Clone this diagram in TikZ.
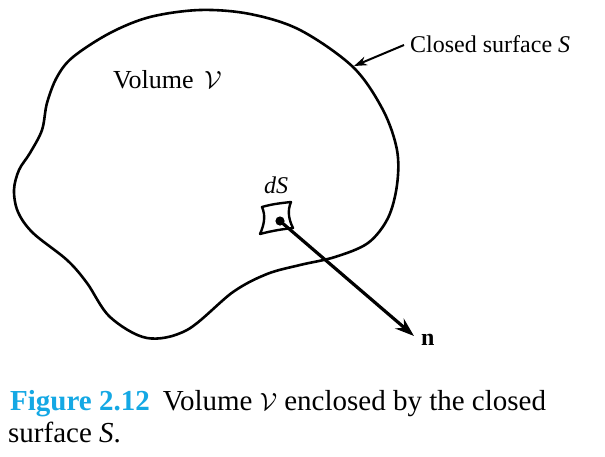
\documentclass[tikz,border=0pt]{standalone}
\usepackage{fontspec}
\setmainfont{Liberation Serif}
\usetikzlibrary{arrows.meta}
\definecolor{capblue}{RGB}{20,168,228}
\tikzset{
  outline/.style={line width=2.6pt, line join=round},
  lbl/.style={font=\fontsize{24}{28}\selectfont, inner sep=0pt},
  captext/.style={font=\fontsize{29}{33}\selectfont, inner sep=0pt},
  ptr/.style={line width=2pt, -{Stealth[length=13pt,width=9pt]}},
  normalarrow/.style={line width=3.2pt, -{Stealth[length=19pt,width=13pt]}}
}
\begin{document}
\begin{tikzpicture}[x=1pt,y=-1pt]
\useasboundingbox (0,0) rectangle (605,456);
% closed surface
\draw[outline] plot[smooth cycle, tension=0.55] coordinates {
 (200,10) (250,14) (300,30) (353,67) (383,110) (397,150) (397,185)
 (388,218) (368,243) (335,257) (300,265) (267,274) (233,292) (187,330)
 (147,338) (110,317) (87,283) (67,260) (33,233) (18,212) (14,190)
 (19,170) (30,153) (42,130) (47,103) (57,77) (73,57) (110,33) (150,17)};
\coordinate (surf) at (354,66);
% labels
\node[lbl, font=\fontsize{26}{30}\selectfont, anchor=base west] (vol) at (113,88) {Volume \,$\mathcal{V}$};
\node[lbl, anchor=base west] (cs) at (410,52) {Closed surface \textit{S}};
\coordinate (csl) at (404,45);
\draw[ptr] (csl) -- (surf);
% surface element
\draw[line width=2.4pt, line join=round] (262,207) .. controls (272,204) and (282,203) .. (291,202)
  .. controls (287,211) and (289,220) .. (293,228)
  .. controls (283,229) and (271,231) .. (260,234)
  .. controls (264,225) and (266,216) .. (262,207) -- cycle;
\node[lbl, anchor=base] (ds) at (276,193) {\textit{dS}};
\fill (280,221) circle (4.6);
\node (dot) at (280,221) [inner sep=0pt, minimum size=0pt] {};
\coordinate (tip) at (414,336);
\draw[normalarrow] (dot) -- (tip);
\node[lbl, anchor=base west] (n) at (421,345) {\textbf{n}};
% caption
\node[captext, anchor=base west] (c1) at (10,410) {\textcolor{capblue}{\textbf{Figure 2.12}}\hspace{0.45em}Volume $\mathcal{V}$ enclosed by the closed};
\node[captext, anchor=base west] (c2) at (8,442) {surface \textit{S}.};
\end{tikzpicture}
\end{document}
